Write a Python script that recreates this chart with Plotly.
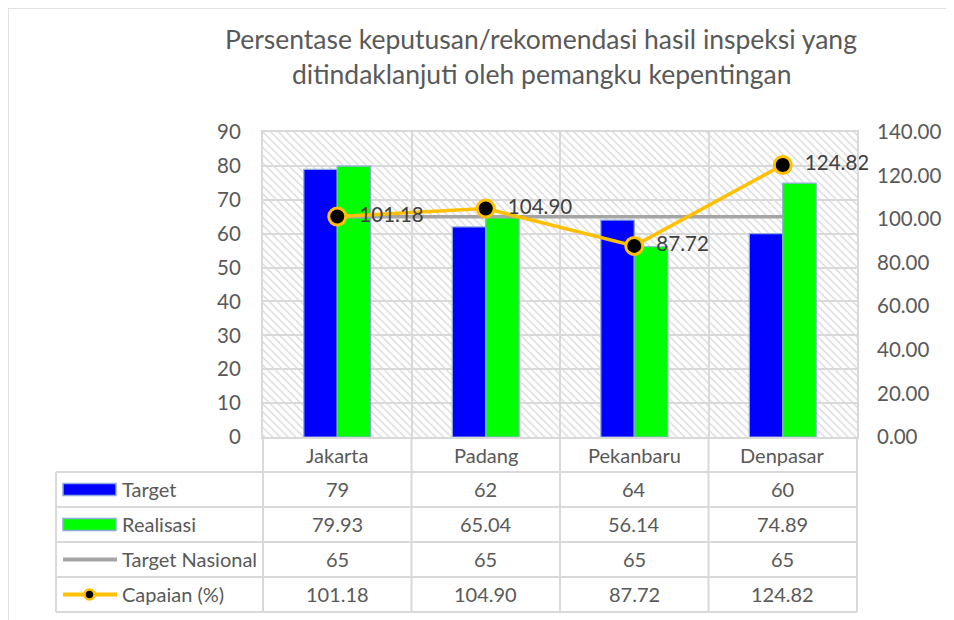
import plotly.graph_objects as go

categories = ["Jakarta", "Padang", "Pekanbaru", "Denpasar"]
target = [79, 62, 64, 60]
realisasi = [79.93, 65.04, 56.14, 74.89]
target_nasional = [65, 65, 65, 65]
capaian = [101.18, 104.90, 87.72, 124.82]
series_names = ["Target", "Realisasi", "Target Nasional", "Capaian (%)"]
left_ticks = list(range(0, 91, 10))
right_ticks = list(range(0, 141, 20))
title_lines = ["Persentase keputusan/rekomendasi hasil inspeksi yang",
               "ditindaklanjuti oleh pemangku kepentingan"]

W, H = 954, 620
OFF = 8  # page body margin
# plot area in screenshot pixels
SL, SR, ST, SB = 263, 857, 132, 437
L, R, T, B = SL - OFF, SR - OFF, ST - OFF, SB - OFF
FONT = "Lato"
TXT = "#595959"
GRID = "#D9D9D9"
BLUE, GREEN, GRAYL, ORANGE = "#0000FF", "#00FF00", "#A5A5A5", "#FFC000"
EDGE = "#8FAADC"


def px(x):
    return (x - SL) / (SR - SL)


def py(y):
    return (SB - y) / (SB - ST)


fig = go.Figure()

# hatched plot background
fig.add_trace(go.Bar(
    x=categories, y=[max(left_ticks)] * len(categories), width=1, offset=-0.5,
    marker=dict(color="rgba(0,0,0,0)", line=dict(width=0),
                pattern=dict(shape="\\", fgcolor=GRID, size=5.5, solidity=0.25,
                             fillmode="replace")),
    hoverinfo="skip", showlegend=False))

fig.add_trace(go.Bar(
    x=categories, y=target, name=series_names[0], width=0.225, offset=-0.225,
    marker=dict(color=BLUE, line=dict(color=EDGE, width=1.2)), showlegend=False))
fig.add_trace(go.Bar(
    x=categories, y=realisasi, name=series_names[1], width=0.225, offset=0,
    marker=dict(color=GREEN, line=dict(color=EDGE, width=1.2)), showlegend=False))
fig.add_trace(go.Scatter(
    x=categories, y=target_nasional, name=series_names[2], mode="lines",
    line=dict(color=GRAYL, width=3.5), showlegend=False))
fig.add_trace(go.Scatter(
    x=categories, y=capaian, name=series_names[3], yaxis="y2",
    mode="lines+markers+text",
    text=[f"{v:.2f}" for v in capaian], texttemplate="  %{text}",
    textposition="middle right",
    textfont=dict(family=FONT, size=20.5, color="#404040"),
    line=dict(color=ORANGE, width=3.5),
    marker=dict(color="black", size=17, line=dict(color=ORANGE, width=3)),
    showlegend=False, cliponaxis=False))

shapes = []
ann = []

# title
for i, t in enumerate(title_lines):
    ann.append(dict(text=t, x=px(541), y=py(39 + 35 * i), xref="paper", yref="paper",
                    showarrow=False, xanchor="center", yanchor="middle",
                    font=dict(family=FONT, size=26.5, color=TXT)))

# outer chart border (partial)
shapes.append(dict(type="line", xref="paper", yref="paper", x0=px(OFF), x1=px(960),
                   y0=py(OFF), y1=py(OFF), line=dict(color=GRID, width=1.5)))
shapes.append(dict(type="line", xref="paper", yref="paper", x0=px(OFF), x1=px(OFF),
                   y0=py(OFF), y1=py(630), line=dict(color=GRID, width=1.5)))

# data table grid
row_lines = [472, 507, 542, 577, 612]
table_left = 56
for yl in row_lines:
    shapes.append(dict(type="line", xref="paper", yref="paper", x0=px(table_left), x1=1,
                       y0=py(yl), y1=py(yl), line=dict(color=GRID, width=2)))
n = len(categories)
for i in range(n + 1):
    shapes.append(dict(type="line", xref="paper", yref="paper", x0=i / n, x1=i / n,
                       y0=0, y1=py(row_lines[-1]), line=dict(color=GRID, width=2)))
shapes.append(dict(type="line", xref="paper", yref="paper", x0=px(table_left), x1=px(table_left),
                   y0=py(row_lines[0]), y1=py(row_lines[-1]), line=dict(color=GRID, width=2)))

TF = 20
# category labels row
for c in categories:
    ann.append(dict(text=c, x=c, xref="x", y=py((SB + row_lines[0]) / 2), yref="paper",
                    showarrow=False, xanchor="center", yanchor="middle",
                    font=dict(family=FONT, size=TF, color=TXT)))

# table values
rows = [target, realisasi, target_nasional, capaian]
fmts = ["{:g}", "{:.2f}", "{:g}", "{:.2f}"]
for r, (vals, fmt) in enumerate(zip(rows, fmts)):
    yc = py((row_lines[r] + row_lines[r + 1]) / 2 - 1)
    for c, v in zip(categories, vals):
        ann.append(dict(text=fmt.format(v), x=c, xref="x", y=yc, yref="paper",
                        showarrow=False, xanchor="center", yanchor="middle",
                        font=dict(family=FONT, size=TF, color=TXT)))
    ann.append(dict(text=series_names[r], x=px(120), xref="paper", y=yc, yref="paper",
                    showarrow=False, xanchor="left", yanchor="middle",
                    font=dict(family=FONT, size=TF, color=TXT)))

# legend keys
k0, k1 = 63, 116
for r, col in enumerate([BLUE, GREEN]):
    yc = (row_lines[r] + row_lines[r + 1]) / 2
    shapes.append(dict(type="rect", xref="paper", yref="paper", x0=px(k0), x1=px(k1),
                       y0=py(yc - 6), y1=py(yc + 6), fillcolor=col,
                       line=dict(color=EDGE, width=1.5)))
for r, col in [(2, GRAYL), (3, ORANGE)]:
    yc = (row_lines[r] + row_lines[r + 1]) / 2
    shapes.append(dict(type="line", xref="paper", yref="paper", x0=px(k0), x1=px(k1 + 1),
                       y0=py(yc), y1=py(yc), line=dict(color=col, width=4)))
yc = (row_lines[3] + row_lines[4]) / 2
cx = (k0 + k1) / 2
shapes.append(dict(type="circle", xref="paper", yref="paper", x0=px(cx - 5), x1=px(cx + 5),
                   y0=py(yc + 5), y1=py(yc - 5), fillcolor="black",
                   line=dict(color=ORANGE, width=2.5)))

fig.update_layout(
    width=W, height=H,
    margin=dict(l=L, r=W - R, t=T, b=H - B, pad=0),
    paper_bgcolor="white", plot_bgcolor="white",
    barmode="overlay",
    font=dict(family=FONT, color=TXT),
    showlegend=False,
    xaxis=dict(type="category", categoryorder="array", categoryarray=categories,
               range=[-0.5, n - 0.5], tickson="boundaries", showgrid=True,
               gridcolor=GRID, gridwidth=2, showticklabels=False, ticks="",
               showline=True, linecolor=GRID, linewidth=2, mirror=True, zeroline=False),
    yaxis=dict(range=[0, max(left_ticks)], tickvals=left_ticks, showgrid=True,
               gridcolor=GRID, gridwidth=2, zeroline=False,
               showline=True, linecolor=GRID, linewidth=2, mirror=True,
               ticks="", ticklabelstandoff=16,
               tickfont=dict(family=FONT, size=20.5, color=TXT)),
    yaxis2=dict(range=[0, max(right_ticks)], tickvals=right_ticks, tickformat=".2f",
                overlaying="y", side="right", showgrid=False, zeroline=False,
                ticks="", ticklabelstandoff=19,
                tickfont=dict(family=FONT, size=20.5, color=TXT)),
    shapes=shapes, annotations=ann,
)

fig.write_html("out.html")
